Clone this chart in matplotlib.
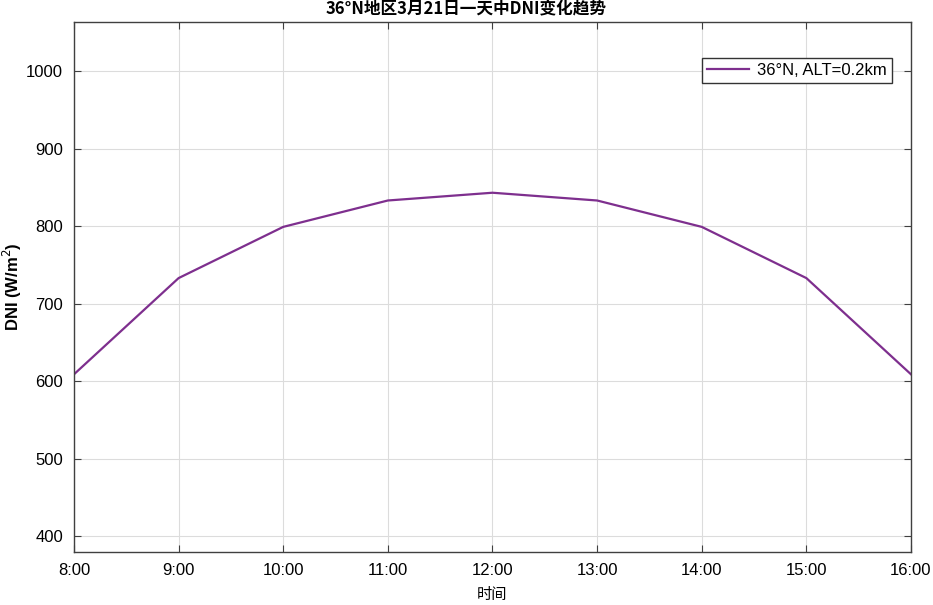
import matplotlib
matplotlib.use('Agg')
from matplotlib import pyplot as plt

hours = ['8:00', '9:00', '10:00', '11:00', '12:00', '13:00', '14:00', '15:00', '16:00']
dni = [609, 733, 799, 833, 843, 833, 799, 733, 609]
yticks = [400, 500, 600, 700, 800, 900, 1000]

plt.rcParams['font.family'] = ['Liberation Sans', 'Noto Sans CJK SC', 'DejaVu Sans']

fig = plt.figure(figsize=(9.33, 6.05), dpi=100)
ax = fig.add_axes([0.0793, 0.0876, 0.8971, 0.876])

x = list(range(len(hours)))
ax.plot(x, dni, color='#7E2F8E', lw=1.6, label='36°N, ALT=0.2km')

ax.set_xlim(0, len(hours) - 1)
ax.set_ylim(380, 1063)
ax.set_xticks(x)
ax.set_xticklabels(hours)
ax.set_yticks(yticks)
ax.tick_params(direction='in', top=True, right=True, labelsize=12, length=5,
               color='#404040', pad=8)
ax.grid(True, color='#dcdcdc', lw=0.8)
for s in ax.spines.values():
    s.set_color('#404040')
    s.set_linewidth(1.0)

fig.text(0.5, 0.984, '36°N地区3月21日一天中DNI变化趋势', fontsize=12, fontweight='bold',
         family=['Noto Sans CJK SC', 'DejaVu Sans'], ha='center', va='center')
ax.set_xlabel('时间', fontsize=11, family=['Noto Sans CJK SC'], labelpad=6)
ax.set_ylabel('DNI (W/m$^2$)', fontsize=12, fontweight='bold', labelpad=1)

leg = ax.legend(loc='upper right', bbox_to_anchor=(0.977, 0.932), borderaxespad=0,
                fontsize=12, fancybox=False, framealpha=1, edgecolor='#333333',
                handlelength=2.5, borderpad=0.3, handletextpad=0.5)
leg.get_frame().set_linewidth(1.0)

fig.savefig('out.png', dpi=100)
